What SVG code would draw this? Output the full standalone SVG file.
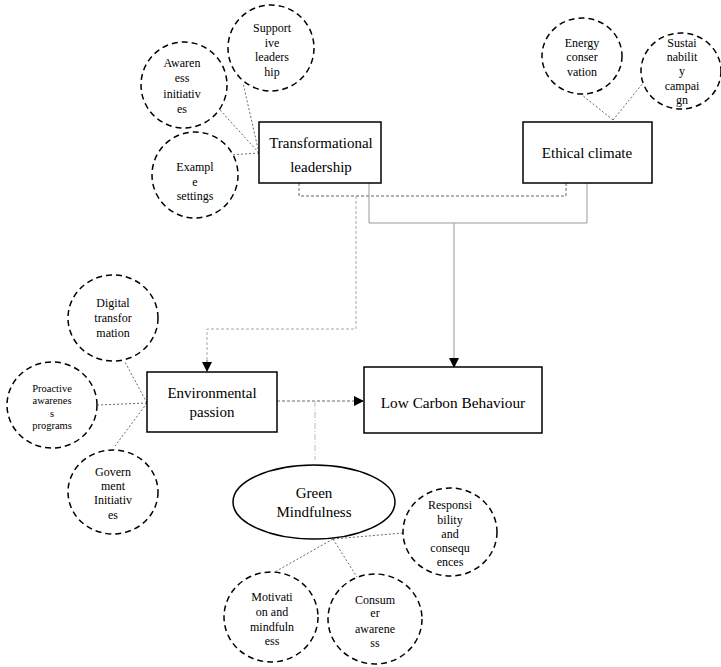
<svg xmlns="http://www.w3.org/2000/svg" width="721" height="667" viewBox="0 0 721 667" font-family="Liberation Serif, DejaVu Serif, serif">
<defs>
<style>
text{font-family:Liberation Serif, DejaVu Serif, serif}
.t{fill:#000;text-anchor:middle}
.big{font-size:15px}
.lc{font-size:15.3px}
.sm{font-size:12px}
.xs{font-size:10.5px}
.box{fill:#fff;stroke:#000;stroke-width:1.5}
.c{fill:#fff;stroke:#000;stroke-width:1.5;stroke-dasharray:6 4}
.dot{fill:none;stroke:#444;stroke-width:0.8;stroke-dasharray:2 2}
.dash{fill:none;stroke:#555;stroke-width:0.9;stroke-dasharray:3 2}
.lgdash{fill:none;stroke:#aaa;stroke-width:1;stroke-dasharray:3 2}
.solid{fill:none;stroke:#999;stroke-width:1}
.dd{fill:none;stroke:#bbb;stroke-width:1;stroke-dasharray:6 2 1 2}
</style>
<marker id="ah" markerWidth="10" markerHeight="10" refX="9" refY="5" orient="auto" markerUnits="userSpaceOnUse">
<path d="M0,0 L10,5 L0,10 z" fill="#000"/>
</marker>
</defs>
<g id="connectors">
<path class="dot" d="M259,153 L243,83 M259,153 L220,110 M259,153 L230,155"/>
<path class="dot" d="M613,120 L582,95 M613,120 L643,83"/>
<path class="dot" d="M147,403 L125,362 M147,403 L98,405 M147,403 L115,446"/>
<path class="dot" d="M333,539 L403,533 M333,539 L273,573 M333,539 L357,577"/>
<path class="dash" d="M299,183 V196 H566 V183"/>
<path class="lgdash" d="M356,196 V329 H207 V362"/>
<path class="dash" d="M207,360 V371" marker-end="url(#ah)"/>
<path class="solid" d="M369,183 V223 H587 V183 M454,223 V367" marker-end="url(#ah)"/>
<path class="dash" d="M277,401 H363" marker-end="url(#ah)"/>
<path class="dd" d="M315,401 V460"/>
</g>
<g id="transformational">
<rect class="box" x="259" y="122" width="122" height="61"/>
<text class="t big" x="321" y="148">Transformational</text>
<text class="t big" x="321" y="172">leadership</text>
</g>
<g id="ethical">
<rect class="box" x="523" y="122" width="129" height="61"/>
<text class="t big" x="587" y="158">Ethical climate</text>
</g>
<g id="environmental">
<rect class="box" x="147" y="372" width="130" height="60"/>
<text class="t big" x="212" y="398">Environmental</text>
<text class="t big" x="212" y="417">passion</text>
</g>
<g id="lowcarbon">
<rect class="box" x="364" y="367" width="178" height="66"/>
<text class="t lc" x="453" y="408">Low Carbon Behaviour</text>
</g>
<g id="green">
<ellipse class="box" cx="314" cy="502" rx="81" ry="37"/>
<text class="t big" x="314" y="498">Green</text>
<text class="t big" x="314" y="517">Mindfulness</text>
</g>
<g id="supportive">
<ellipse class="c" cx="271" cy="48" rx="43" ry="43"/>
<text class="t sm" x="272" y="32">Support</text>
<text class="t sm" x="272" y="47">ive</text>
<text class="t sm" x="272" y="61">leaders</text>
<text class="t sm" x="272" y="76">hip</text>
</g>
<g id="awareness">
<ellipse class="c" cx="184" cy="85" rx="43" ry="43"/>
<text class="t sm" x="182" y="67">Awaren</text>
<text class="t sm" x="182" y="82">ess</text>
<text class="t sm" x="182" y="98">initiativ</text>
<text class="t sm" x="182" y="113">es</text>
</g>
<g id="example">
<ellipse class="c" cx="195" cy="175" rx="43" ry="43"/>
<text class="t sm" x="195" y="171">Exampl</text>
<text class="t sm" x="195" y="186">e</text>
<text class="t sm" x="195" y="200">settings</text>
</g>
<g id="energy">
<ellipse class="c" cx="582" cy="56" rx="40" ry="38"/>
<text class="t sm" x="582" y="47">Energy</text>
<text class="t sm" x="582" y="61">conser</text>
<text class="t sm" x="582" y="76">vation</text>
</g>
<g id="sustainability">
<ellipse class="c" cx="681" cy="71" rx="40" ry="38"/>
<text class="t sm" x="682" y="47">Sustai</text>
<text class="t sm" x="682" y="61">nabilit</text>
<text class="t sm" x="682" y="75">y</text>
<text class="t sm" x="682" y="90">campai</text>
<text class="t sm" x="682" y="104">gn</text>
</g>
<g id="digital">
<ellipse class="c" cx="113" cy="318" rx="45" ry="43"/>
<text class="t sm" x="113" y="307">Digital</text>
<text class="t sm" x="113" y="322">transfor</text>
<text class="t sm" x="113" y="337">mation</text>
</g>
<g id="proactive">
<ellipse class="c" cx="52" cy="405" rx="45" ry="43"/>
<text class="t xs" x="52" y="392">Proactive</text>
<text class="t xs" x="52" y="404">awarenes</text>
<text class="t xs" x="52" y="417">s</text>
<text class="t xs" x="52" y="429">programs</text>
</g>
<g id="government">
<ellipse class="c" cx="113" cy="492" rx="45" ry="42"/>
<text class="t sm" x="113" y="476">Govern</text>
<text class="t sm" x="113" y="490">ment</text>
<text class="t sm" x="113" y="504">Initiativ</text>
<text class="t sm" x="113" y="519">es</text>
</g>
<g id="responsibility">
<ellipse class="c" cx="450" cy="532" rx="47" ry="44"/>
<text class="t sm" x="450" y="509">Responsi</text>
<text class="t sm" x="450" y="524">bility</text>
<text class="t sm" x="450" y="538">and</text>
<text class="t sm" x="450" y="552">consequ</text>
<text class="t sm" x="450" y="566">ences</text>
</g>
<g id="motivation">
<ellipse class="c" cx="271" cy="617" rx="47" ry="45"/>
<text class="t sm" x="272" y="601">Motivati</text>
<text class="t sm" x="272" y="616">on and</text>
<text class="t sm" x="272" y="631">mindfuln</text>
<text class="t sm" x="272" y="645">ess</text>
</g>
<g id="consumer">
<ellipse class="c" cx="375" cy="619" rx="47" ry="45"/>
<text class="t sm" x="375" y="604">Consum</text>
<text class="t sm" x="375" y="617">er</text>
<text class="t sm" x="375" y="633">awarene</text>
<text class="t sm" x="375" y="647">ss</text>
</g>
</svg>
